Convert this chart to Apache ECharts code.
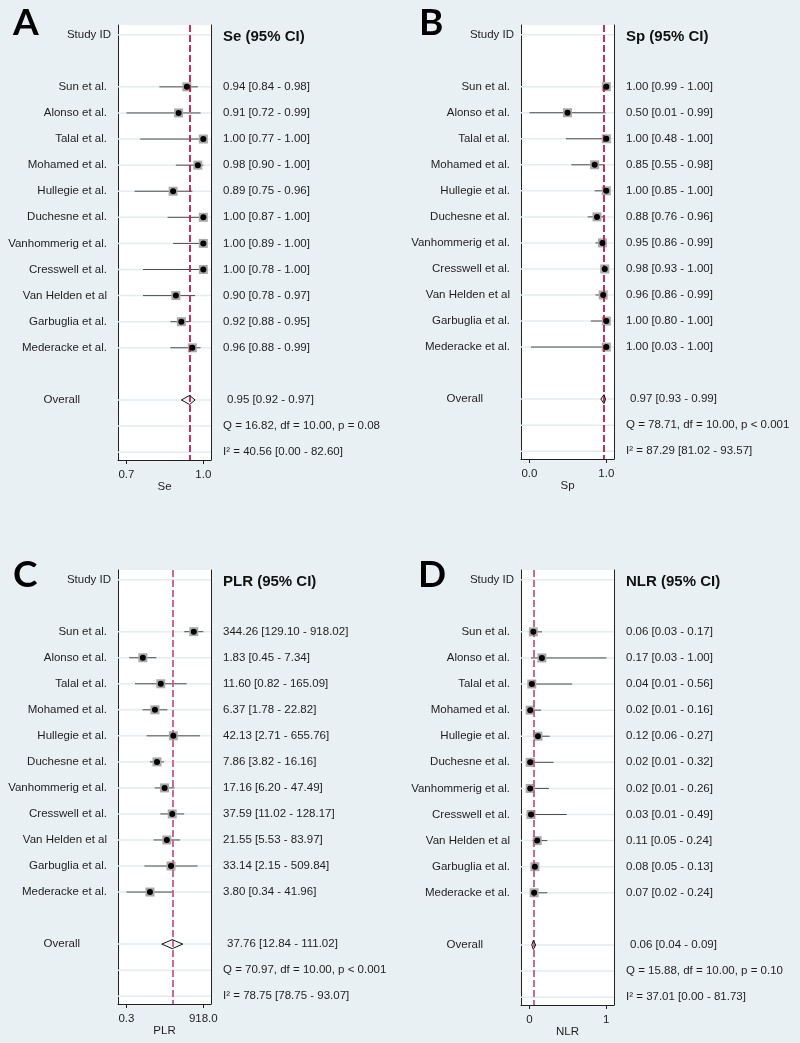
<!DOCTYPE html>
<html><head><meta charset="utf-8">
<script src="https://cdn.jsdelivr.net/npm/echarts@6/dist/echarts.min.js"></script>
<style>html,body{margin:0;padding:0;background:#e9f0f3;}#c{width:800px;height:1043px;}</style>
</head><body><div id="c"></div>
<script>
// ---------------- DATA ----------------
const studies = ['Sun et al.', 'Alonso et al.', 'Talal et al.', 'Mohamed et al.', 'Hullegie et al.',
  'Duchesne et al.', 'Vanhommerig et al.', 'Cresswell et al.', 'Van Helden et al', 'Garbuglia et al.', 'Mederacke et al.'];

const seEst = [0.94, 0.91, 1.00, 0.98, 0.89, 1.00, 1.00, 1.00, 0.90, 0.92, 0.96];
const seLo  = [0.84, 0.72, 0.77, 0.90, 0.75, 0.87, 0.89, 0.78, 0.78, 0.88, 0.88];
const seHi  = [0.98, 0.99, 1.00, 1.00, 0.96, 1.00, 1.00, 1.00, 0.97, 0.95, 0.99];
const seOverall = [0.95, 0.92, 0.97];

const spEst = [1.00, 0.50, 1.00, 0.85, 1.00, 0.88, 0.95, 0.98, 0.96, 1.00, 1.00];
const spLo  = [0.99, 0.01, 0.48, 0.55, 0.85, 0.76, 0.86, 0.93, 0.86, 0.80, 0.03];
const spHi  = [1.00, 0.99, 1.00, 0.98, 1.00, 0.96, 0.99, 1.00, 0.99, 1.00, 1.00];
const spOverall = [0.97, 0.93, 0.99];

const plrEst = [344.26, 1.83, 11.60, 6.37, 42.13, 7.86, 17.16, 37.59, 21.55, 33.14, 3.80];
const plrLo  = [129.10, 0.45, 0.82, 1.78, 2.71, 3.82, 6.20, 11.02, 5.53, 2.15, 0.34];
const plrHi  = [918.02, 7.34, 165.09, 22.82, 655.76, 16.16, 47.49, 128.17, 83.97, 509.84, 41.96];
const plrOverall = [37.76, 12.84, 111.02];

const nlrEst = [0.06, 0.17, 0.04, 0.02, 0.12, 0.02, 0.02, 0.03, 0.11, 0.08, 0.07];
const nlrLo  = [0.03, 0.03, 0.01, 0.01, 0.06, 0.01, 0.01, 0.01, 0.05, 0.05, 0.02];
const nlrHi  = [0.17, 1.00, 0.56, 0.16, 0.27, 0.32, 0.26, 0.49, 0.24, 0.13, 0.24];
const nlrOverall = [0.06, 0.04, 0.09];

const heterogeneityQ = ['Q = 16.82, df = 10.00, p = 0.08', 'Q = 78.71, df = 10.00, p < 0.001',
  'Q = 70.97, df = 10.00, p < 0.001', 'Q = 15.88, df = 10.00, p = 0.10'];
const inconsistencyI2 = ['I\u00B2 = 40.56 [0.00 - 82.60]', 'I\u00B2 = 87.29 [81.02 - 93.57]',
  'I\u00B2 = 78.75 [78.75 - 93.07]', 'I\u00B2 = 37.01 [0.00 - 81.73]'];
const headers = ['Se (95% CI)', 'Sp (95% CI)', 'PLR (95% CI)', 'NLR (95% CI)'];
const axisNames = ['Se', 'Sp', 'PLR', 'NLR'];
const panelLetters = ['A', 'B', 'C', 'D'];

// ---------------- LAYOUT / STYLE ----------------
const FONT = '"Liberation Sans", Arial, sans-serif';
const TXT = '#1e1e1e';
const rowHead = 0, rowOverall = 14, rowQ = 15, rowI2 = 16;
const studyRows = studies.map((_, i) => i + 2);

const panels = [
  {est: seEst, lo: seLo, hi: seHi, ov: seOverall, log: false, dec: 1, box: {left: 118, top: 25, width: 93, height: 435}, letter: [13, 23], ref: '#c8184a'},
  {est: spEst, lo: spLo, hi: spHi, ov: spOverall, log: false, dec: 1, box: {left: 521, top: 25, width: 93, height: 434}, letter: [419, 23], ref: '#c8184a'},
  {est: plrEst, lo: plrLo, hi: plrHi, ov: plrOverall, log: true, dec: 1, box: {left: 118, top: 570, width: 93, height: 434}, letter: [13, 575], ref: '#cc5a83'},
  {est: nlrEst, lo: nlrLo, hi: nlrHi, ov: nlrOverall, log: false, dec: 0, box: {left: 521, top: 570, width: 93, height: 435}, letter: [418, 575], ref: '#cc5a83'}
];

const f2 = v => v.toFixed(2);
const ciText = (e, l, h) => f2(e) + ' [' + f2(l) + ' - ' + f2(h) + ']';

const grids = [], xAxes = [], yAxes = [], series = [], graphics = [];

panels.forEach((p, i) => {
  const tx = p.log ? (v => Math.log10(v)) : (v => v);
  const tlo = tx(Math.min(...p.lo)), thi = tx(Math.max(...p.hi));
  const span = thi - tlo;
  const xmin = tlo - 0.11 * span, xmax = thi + 0.10 * span;

  grids.push(Object.assign({show: true, backgroundColor: '#ffffff', borderWidth: 0, outerBoundsMode: 'none', containLabel: false}, p.box));

  xAxes.push({
    gridIndex: i, type: 'value', min: xmin, max: xmax,
    axisLine: {show: true, onZero: false, lineStyle: {color: '#222', width: 1}},
    axisTick: {show: true, customValues: [tlo, thi], length: 4, lineStyle: {color: '#222', width: 1}},
    axisLabel: {customValues: [tlo, thi], margin: 9, fontSize: 11.5, color: TXT, fontFamily: FONT,
      formatter: v => (p.log ? Math.pow(10, v) : v).toFixed(p.dec)},
    splitLine: {show: false},
    name: axisNames[i], nameLocation: 'middle', nameGap: 21, nameMoveOverlap: false,
    nameTextStyle: {fontSize: 11.5, color: TXT, fontFamily: FONT}
  });

  const leftRows = [rowHead].concat(studyRows, [rowOverall]);
  const rightRows = [rowHead].concat(studyRows, [rowOverall, rowQ, rowI2]);
  const baseY = {gridIndex: i, type: 'value', inverse: true, min: -0.37, max: 16.3,
    axisLine: {show: true, onZero: false, lineStyle: {color: '#222', width: 1}},
    axisTick: {show: false}, splitLine: {show: false}};

  yAxes.push(Object.assign({}, baseY, {
    position: 'left',
    axisLabel: {customValues: leftRows, margin: 7, fontFamily: FONT, fontSize: 11.5, color: TXT,
      formatter: v => {
        const r = Math.round(v);
        if (r === rowHead) return '{sid|Study ID}';
        if (r === rowOverall) return '{ov|Overall}';
        return '{n|' + studies[r - 2] + '}';
      },
      rich: {
        sid: {fontFamily: FONT, fontSize: 11.5, color: TXT},
        n: {fontFamily: FONT, fontSize: 11.5, color: TXT, padding: [0, 4, 0, 0]},
        ov: {fontFamily: FONT, fontSize: 11.5, color: TXT, padding: [0, 31, 0, 0]}
      }}
  }));
  yAxes.push(Object.assign({}, baseY, {
    position: 'right',
    axisLabel: {customValues: rightRows, margin: 12, fontFamily: FONT, fontSize: 11.5, color: TXT,
      formatter: v => {
        const r = Math.round(v);
        if (r === rowHead) return '{h|' + headers[i] + '}';
        if (r === rowOverall) return '{ov|' + ciText(p.ov[0], p.ov[1], p.ov[2]) + '}';
        if (r === rowQ) return '{t|' + heterogeneityQ[i] + '}';
        if (r === rowI2) return '{t|' + inconsistencyI2[i] + '}';
        const k = r - 2;
        return '{t|' + ciText(p.est[k], p.lo[k], p.hi[k]) + '}';
      },
      rich: {
        h: {fontFamily: FONT, fontSize: 15, fontWeight: 'bold', color: '#111', padding: [5, 0, 0, 0]},
        t: {fontFamily: FONT, fontSize: 11.5, color: TXT},
        ov: {fontFamily: FONT, fontSize: 11.5, color: TXT, padding: [0, 0, 0, 4]}
      }}
  }));

  const xi = i, yi = 2 * i;
  // faint row lines
  series.push({
    type: 'custom', xAxisIndex: xi, yAxisIndex: yi, z: 1, silent: true,
    encode: {x: 0, y: 1},
    data: rightRows.map(r => [xmin, r]),
    renderItem: (params, api) => {
      const cs = params.coordSys;
      const y = api.coord([api.value(0), api.value(1)])[1];
      return {type: 'line', shape: {x1: cs.x, y1: y, x2: cs.x + cs.width, y2: y},
        style: {stroke: '#e3ecf0', lineWidth: 1.5}};
    }
  });
  // CI lines
  series.push({
    type: 'custom', xAxisIndex: xi, yAxisIndex: yi, z: 2, silent: true,
    encode: {x: [0, 1], y: 2},
    data: studies.map((_, k) => [tx(p.lo[k]), tx(p.hi[k]), studyRows[k]]),
    renderItem: (params, api) => {
      const a = api.coord([api.value(0), api.value(2)]);
      const b = api.coord([api.value(1), api.value(2)]);
      return {type: 'line', shape: {x1: a[0], y1: a[1], x2: b[0], y2: b[1]},
        style: {stroke: '#4d4d4d', lineWidth: 1}};
    }
  });
  // reference dashed line at overall estimate
  series.push({
    type: 'scatter', xAxisIndex: xi, yAxisIndex: yi, z: 3, silent: true, data: [],
    markLine: {silent: true, symbol: ['none', 'none'], label: {show: false}, animation: false,
      lineStyle: {color: p.ref, type: [7, 3], width: 1.8},
      data: [{xAxis: tx(p.ov[0])}]}
  });
  // weight boxes
  series.push({
    type: 'scatter', xAxisIndex: xi, yAxisIndex: yi, z: 4, silent: true,
    symbol: 'rect', symbolSize: 9, itemStyle: {color: '#a9a9a9', opacity: 1},
    data: studies.map((_, k) => [tx(p.est[k]), studyRows[k]])
  });
  // point estimates
  series.push({
    type: 'scatter', xAxisIndex: xi, yAxisIndex: yi, z: 5, silent: true,
    symbol: 'circle', symbolSize: 6, itemStyle: {color: '#000', opacity: 1},
    data: studies.map((_, k) => [tx(p.est[k]), studyRows[k]])
  });
  // overall diamond
  series.push({
    type: 'custom', xAxisIndex: xi, yAxisIndex: yi, z: 5, silent: true,
    encode: {x: [0, 1, 2], y: 3},
    data: [[tx(p.ov[0]), tx(p.ov[1]), tx(p.ov[2]), rowOverall]],
    renderItem: (params, api) => {
      const c = api.coord([api.value(0), api.value(3)]);
      const l = api.coord([api.value(1), api.value(3)]);
      const r = api.coord([api.value(2), api.value(3)]);
      const h = 4.5;
      return {type: 'polygon', shape: {points: [[l[0], c[1]], [c[0], c[1] - h], [r[0], c[1]], [c[0], c[1] + h]]},
        style: {fill: 'none', stroke: '#111', lineWidth: 1}};
    }
  });

  graphics.push({type: 'text', left: p.letter[0], top: p.letter[1] - 18, z: 10,
    style: {text: panelLetters[i], fontFamily: 'Lato, "Open Sans", sans-serif', fontWeight: 'bold', fontSize: 37, fill: '#000'}});
});

const chart = echarts.init(document.getElementById('c'), null, {renderer: 'canvas', width: 800, height: 1043});
chart.setOption({
  backgroundColor: '#e9f0f3',
  animation: false,
  grid: grids, xAxis: xAxes, yAxis: yAxes, series: series, graphic: graphics
});
</script></body></html>
